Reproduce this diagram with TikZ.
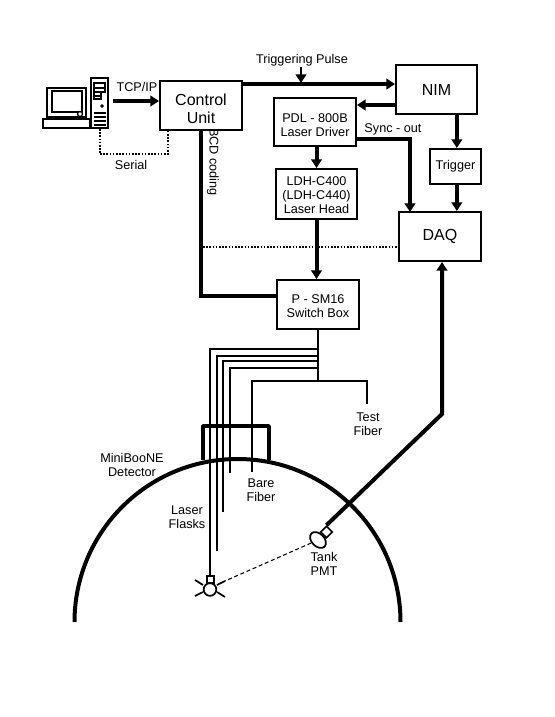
\documentclass[tikz,border=0pt]{standalone}
\usepackage{fontspec}
\setmainfont{Liberation Sans}
\usetikzlibrary{arrows.meta,shapes.geometric}
\begin{document}
\begin{tikzpicture}[x=0.75pt, y=-0.75pt,
    >={Triangle[length=6.5pt,width=8pt]},
    box/.style={draw, line width=1.5pt, inner sep=0pt, align=center, fill=white},
    small/.style={font=\fontsize{9.5}{10.5}\selectfont},
    big/.style={font=\fontsize{12}{13.5}\selectfont},
    lbl/.style={small, inner sep=0pt, align=center},
    thickline/.style={line width=3pt},
    fiber/.style={line width=1.3pt},
    dotline/.style={line width=1.5pt, dash pattern=on 1.2pt off 1.2pt}]
    \useasboundingbox (0,0) rectangle (554,717);

    \node[box, big, minimum width=61.5pt, minimum height=36.75pt] (ctrl) at (201,105.5) {\rule{0pt}{13.2pt}Control\\Unit};
    \node[box, big, minimum width=60.75pt, minimum height=36.75pt] (nim) at (436.5,89.5) {NIM};
    \node[box, small, minimum width=61.5pt, minimum height=36pt] (pdl) at (315,122) {\rule{0pt}{11.4pt}PDL - 800B\\Laser Driver};
    \node[box, small, minimum width=61pt, minimum height=37.5pt] (ldh) at (316.5,194) {\rule{0pt}{8.1pt}LDH-C400\\(LDH-C440)\\Laser Head};
    \node[box, small, minimum width=38.25pt, minimum height=26.25pt] (trigger) at (455.5,166.5) {Trigger};
    \node[box, big, minimum width=61.5pt, minimum height=36.75pt] (daq) at (440,236.5) {DAQ};
    \node[box, small, minimum width=61.5pt, minimum height=36.75pt] (switch) at (318,304.5) {\rule{0pt}{9pt}P - SM16\\Switch Box};

    % computer
    \node[draw, line width=1.4pt, minimum width=12.75pt, minimum height=37.5pt, inner sep=0pt] (tower) at (99.5,103) {};
    \draw[line width=1pt] (94,83) rectangle (105,88) (94,88) rectangle (105,92) (94,92) rectangle (101,96) (94,96) rectangle (101,99);
    \draw[fill=black] (102,106) circle (1.5);
    \foreach \ys in {113,117,121,125}
        \draw[line width=1.1pt] (94,\ys) -- (106,\ys);
    \draw[line width=1.4pt] (47,88) rectangle (86,117);
    \draw[line width=1.4pt] (52,91) rectangle (82,112);
    \draw[line width=1pt, fill=white] (80,114) circle (2.5);
    \draw[line width=1.4pt] (43,119) rectangle (90,128);

    \coordinate (tcpstart) at (113,101);
    \coordinate (serialcorner) at (168,154);
    \coordinate (bcdbend) at (201,296);
    \coordinate (dotstart) at (203,247);
    \coordinate (tubecorner) at (442,414);
    \coordinate (pulsetop) at (301,67);

    \draw[thickline,->] (tcpstart) -- (ctrl.west |- tcpstart);
    \draw[dotline] (tower.south) -- (tower.south |- serialcorner) -- (serialcorner) -- (serialcorner |- ctrl.south);
    \draw[thickline,->] ([yshift=4.1pt]ctrl.east |- nim.west) -- ([yshift=4.1pt]nim.west);
    \draw[line width=1.4pt,->] (pulsetop) -- (301,83);
    \draw[thickline,->] ([yshift=-11.6pt]nim.west) -- ([yshift=-11.6pt]pdl.east |- nim.west);
    \draw[thickline,->] ([xshift=1pt]trigger.north |- nim.south) -- ([xshift=1pt]trigger.north);
    \draw[thickline,->] ([xshift=1pt]trigger.south) -- ([xshift=1pt]trigger.south |- daq.north);
    \draw[thickline,->] ([yshift=-12.75pt]pdl.east) -- (410,139) -- (410,212);
    \draw[thickline,->] (pdl.south -| ldh.north) -- (ldh.north);
    \draw[thickline,->] (ldh.south) -- (ldh.south |- switch.north);
    \draw[thickline] (ctrl.south) -- (bcdbend) -- (switch.west |- bcdbend);
    \draw[dotline] (dotstart) -- (daq.west |- dotstart);

    % fibers
    \draw[fiber] (switch.south) -- (318,381);
    \foreach \fx/\fy/\fe in {217/356/551,223/361/512,230/368/473,252/381/472}
        \draw[fiber] (318,\fy) -- (\fx,\fy) -- (\fx,\fe);
    \draw[fiber] (318,349) -- (210,349) -- (210,577);
    \draw[fiber] (318,381) -- (367,381) -- (367,404);

    % detector
    \draw[line width=2.8pt, line join=round] (203,460) -- (203,426) -- (269,426) -- (269,460);
    \draw[thickline] (74.5,622) arc[start angle=180, end angle=360, radius=163];

    % laser flask and tank PMT
    \node[draw, line width=1.2pt, minimum size=5pt, inner sep=0pt] (flask) at (210.5,579.5) {};
    \node[draw, circle, line width=1.3pt, minimum size=9.5pt, inner sep=0pt] (bulb) at (210,589.5) {};
    \coordinate (raytip) at (225,581);
    \draw[fiber] (217,585) -- (raytip);
    \draw[fiber] (203,585) -- (195,580) (203,592) -- (195,596) (217,592) -- (225,597);
    \node[draw, ellipse, line width=1.3pt, minimum width=14pt, minimum height=9.5pt, inner sep=0pt, rotate=-45] (pmt) at (318,540) {};
    \node[draw, line width=1.2pt, minimum size=6pt, inner sep=0pt, rotate=45] (pmtbase) at (326.5,532) {};
    \draw[thickline,<-] (daq.south -| tubecorner) -- (tubecorner) -- (pmtbase.45);
    \draw[densely dashed, line width=0.8pt] (pmt) -- (raytip);

    \node[lbl] (tcplbl) at (137,87) {TCP/IP};
    \node[lbl] (seriallbl) at (131,165) {Serial};
    \node[lbl] (pulselbl) at (302,60) {Triggering Pulse};
    \node[lbl] (synclbl) at (393,129) {Sync - out};
    \node[lbl, rotate=-90] (bcdlbl) at (213,162) {BCD coding};
    \node[lbl] (testlbl) at (368,424) {Test\\Fiber};
    \node[lbl] (minilbl) at (132,465) {MiniBooNE\\Detector};
    \node[lbl] (barelbl) at (261,490) {Bare\\Fiber};
    \node[lbl] (flasklbl) at (187,517) {Laser\\Flasks};
    \node[lbl] (tanklbl) at (324,564) {Tank\\PMT};
\end{tikzpicture}
\end{document}
